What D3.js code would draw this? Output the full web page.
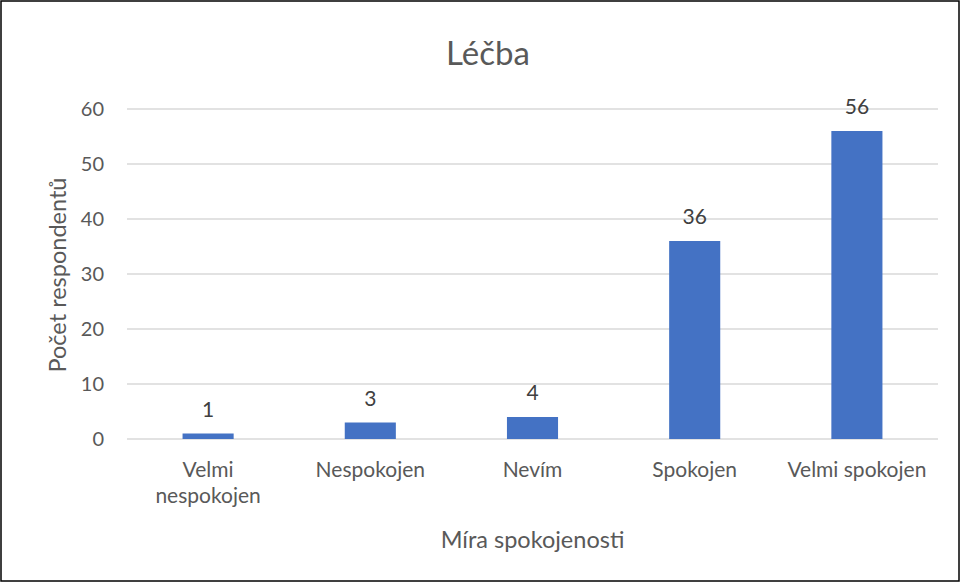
<!DOCTYPE html>
<html>
<head>
<meta charset="utf-8">
<script src="https://cdn.jsdelivr.net/npm/d3@7"></script>
<style>
  html, body { margin: 0; padding: 0; background: #fff; }
  svg { display: block; font-family: Lato, "Open Sans", sans-serif; }
</style>
</head>
<body>
<svg id="chart" width="960" height="582"></svg>
<script>
// data
var categories = [["Velmi", "nespokojen"], ["Nespokojen"], ["Nevím"], ["Spokojen"], ["Velmi spokojen"]];
var values = [1, 3, 4, 36, 56];
var yTicks = [0, 10, 20, 30, 40, 50, 60];
var title = "Léčba";
var xTitle = "Míra spokojenosti";
var yTitle = "Počet respondentů";

var W = 960, H = 582;
var m = { l: 127, r: 22, t: 109, b: 143 };
var svg = d3.select("#chart");
var txt = "#595959";

// frame
svg.append("rect").attr("x", 1).attr("y", 1).attr("width", W - 2).attr("height", H - 2)
  .attr("fill", "#fff").attr("stroke", "#000").attr("stroke-width", 1.5);

var idx = categories.map(function (d, i) { return i; });
var x = d3.scaleBand().domain(idx).range([m.l, W - m.r]).padding(0);
var y = d3.scaleLinear().domain([0, 60]).range([H - m.b, m.t]);

// grid
svg.append("g").selectAll("line").data(yTicks).enter().append("line")
  .attr("x1", m.l).attr("x2", W - m.r)
  .attr("y1", function (d) { return y(d); }).attr("y2", function (d) { return y(d); })
  .attr("stroke", "#d9d9d9").attr("stroke-width", 1.3);

// y tick labels
svg.append("g").selectAll("text").data(yTicks).enter().append("text")
  .attr("x", m.l - 23).attr("y", function (d) { return y(d); }).attr("dy", "0.35em")
  .attr("text-anchor", "end").attr("fill", txt).style("font-size", "20px")
  .text(function (d) { return d; });

// bars
var bw = x.bandwidth() * 0.315;
svg.append("g").selectAll("rect").data(values).enter().append("rect")
  .attr("x", function (d, i) { return x(i) + x.bandwidth() / 2 - bw / 2; })
  .attr("y", function (d) { return y(d); })
  .attr("width", bw)
  .attr("height", function (d) { return y(0) - y(d); })
  .attr("fill", "#4472c4");

// value labels
svg.append("g").selectAll("text").data(values).enter().append("text")
  .attr("x", function (d, i) { return x(i) + x.bandwidth() / 2; })
  .attr("y", function (d) { return y(d) - 17; })
  .attr("text-anchor", "middle").attr("fill", "#404040").style("font-size", "21px")
  .text(function (d) { return d; });

// category labels
var cl = svg.append("g").selectAll("text").data(categories).enter().append("text")
  .attr("text-anchor", "middle").attr("fill", txt).style("font-size", "21px");
cl.each(function (lines, i) {
  var t = d3.select(this);
  lines.forEach(function (s, k) {
    t.append("tspan").attr("x", x(i) + x.bandwidth() / 2).attr("y", y(0) + 38 + k * 26).text(s);
  });
});

// titles
svg.append("text").attr("x", 488).attr("y", 65).attr("text-anchor", "middle")
  .attr("fill", txt).style("font-size", "33px").text(title);
svg.append("text").attr("x", (m.l + W - m.r) / 2).attr("y", 548).attr("text-anchor", "middle")
  .attr("fill", txt).style("font-size", "23.5px").text(xTitle);
svg.append("text").attr("transform", "translate(66," + 275 + ") rotate(-90)")
  .attr("text-anchor", "middle").attr("fill", txt).style("font-size", "23.5px").text(yTitle);
</script>
</body>
</html>
